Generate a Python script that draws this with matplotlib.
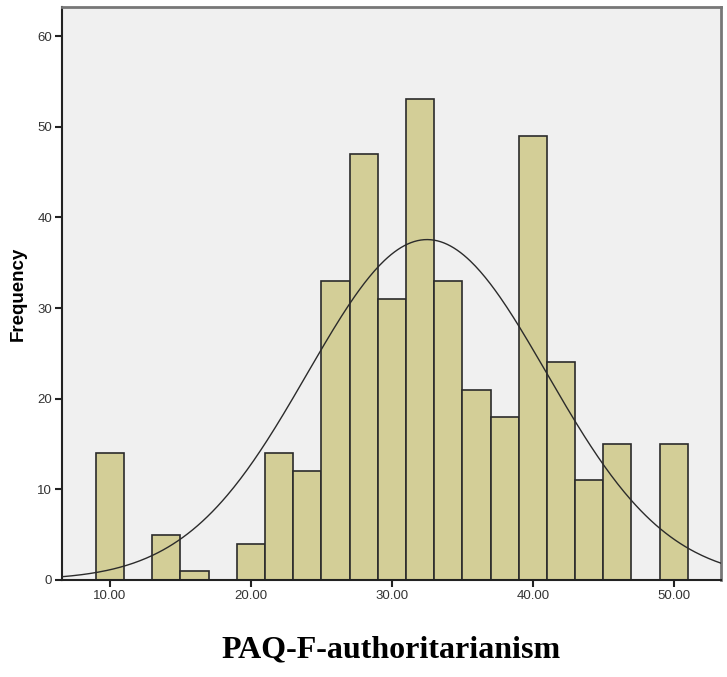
import numpy as np
import matplotlib.pyplot as plt

# histogram bins (width 2) and counts
bin_edges = np.arange(9, 53, 2)
counts = [14, 0, 5, 1, 0, 4, 14, 12, 33, 47, 31, 53, 33, 21, 18, 49, 24, 11, 15, 0, 15]
# fitted normal curve
mean = 32.5
sd = 8.5
n_total = sum(counts)

xticks = [10, 20, 30, 40, 50]
yticks = [0, 10, 20, 30, 40, 50, 60]

fig = plt.figure(figsize=(7.27, 6.77), dpi=100)
ax = fig.add_axes([62 / 727, 1 - 580 / 677, 659 / 727, 573 / 677])
ax.set_facecolor('#f0f0f0')

lefts = bin_edges[:-1]
ax.bar(lefts, counts, width=2, align='edge', color='#d3ce97',
       edgecolor='#2b2b2b', linewidth=1.2, zorder=2)

xs = np.linspace(6.6, 53.4, 400)
ys = n_total * 2 / (sd * np.sqrt(2 * np.pi)) * np.exp(-0.5 * ((xs - mean) / sd) ** 2)
ax.plot(xs, ys, color='#2b2b2b', linewidth=1.0, zorder=3)

ax.set_xlim(6.6, 53.35)
ax.set_ylim(0, 63.2)
ax.set_xticks(xticks)
ax.set_xticklabels(['%.2f' % v for v in xticks])
ax.set_yticks(yticks)
ax.tick_params(direction='out', length=5, width=1.5, color='#222222',
               labelsize=9.5, labelcolor='#333333', pad=2)
for lab in ax.get_xticklabels() + ax.get_yticklabels():
    lab.set_family('Liberation Sans')

for s in ['left', 'bottom']:
    ax.spines[s].set_color('#222222')
    ax.spines[s].set_linewidth(1.5)
for s in ['top', 'right']:
    ax.spines[s].set_color('#777777')
    ax.spines[s].set_linewidth(2)

ax.set_ylabel('Frequency', family='Liberation Sans', fontweight='bold',
              fontsize=13.5, labelpad=8)
fig.text(391 / 727, 1 - 650 / 677, 'PAQ-F-authoritarianism', ha='center', va='center',
         family='Liberation Serif', fontweight='bold', fontsize=23)

fig.savefig('out.png', dpi=100)
